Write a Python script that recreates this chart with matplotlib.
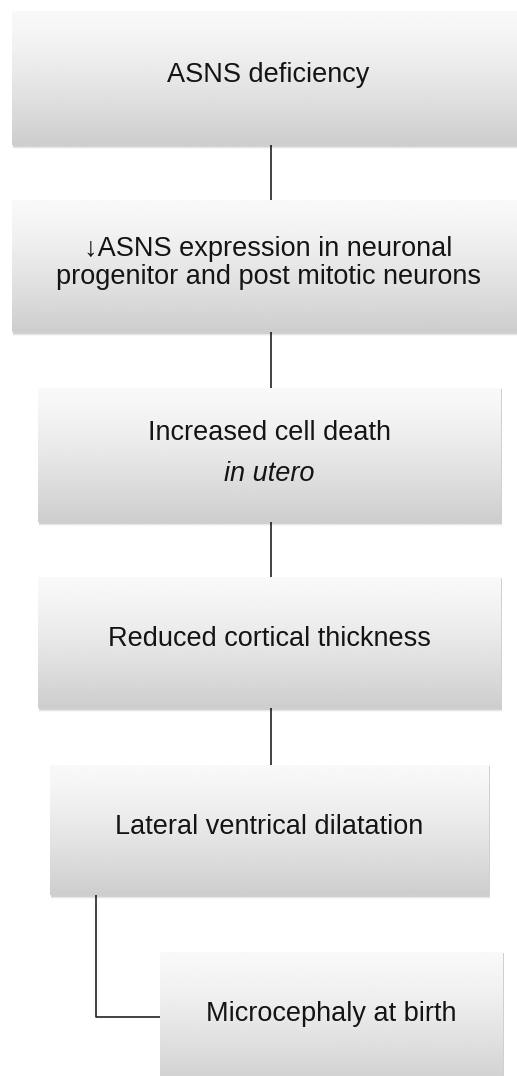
import numpy as np
import matplotlib.pyplot as plt
from matplotlib.patches import Rectangle

# Textos de cada caja del diagrama
labels = [
    "ASNS deficiency",
    "\u2193ASNS expression in neuronal\nprogenitor and post mitotic neurons",
    "Increased cell death",
    "Reduced cortical thickness",
    "Lateral ventrical dilatation",
    "Microcephaly at birth",
]
italic_notes = ["", "", "in utero", "", "", ""]

# Cajas en pixeles: (x0, y0, x1, y1)
boxes = [
    (12, 11, 525, 145),
    (12, 200, 525, 332),
    (38, 388, 501, 522),
    (38, 577, 501, 708),
    (50, 765, 489, 895),
    (160, 952, 503, 1090),
]

W, H = 517, 1076
fig = plt.figure(figsize=(W / 100, H / 100), dpi=100)
ax = fig.add_axes([0, 0, 1, 1])
ax.set_xlim(0, W)
ax.set_ylim(H, 0)
ax.axis('off')

fam = ['Liberation Sans', 'DejaVu Sans']
fs = 19.5

# degradado vertical blanco -> gris
t = np.linspace(0, 1, 256)
grad = (0.975 - 0.17 * t ** 1.3).reshape(-1, 1)

for i, (x0, y0, x1, y1) in enumerate(boxes):
    # sombra suave
    for k, a in enumerate([0.10, 0.06, 0.03]):
        sh = Rectangle((x0 + 1, y0 + 1), x1 - x0, y1 - y0 + 1 + k, facecolor='black',
                       edgecolor='none', alpha=a, zorder=1)
        ax.add_patch(sh)
    rect = Rectangle((x0, y0), x1 - x0, y1 - y0, facecolor='none', edgecolor='none', zorder=2)
    ax.add_patch(rect)
    im = ax.imshow(grad, cmap='gray', vmin=0, vmax=1, aspect='auto',
                   extent=(x0, x1, y1, y0), zorder=2, interpolation='bilinear')
    im.set_clip_path(rect)

    cx = (x0 + min(x1, W + 8)) / 2
    cy = (y0 + y1) / 2 - 3
    if i == 5:
        cy = 1014
    if italic_notes[i]:
        ax.text(cx, cy - 19, labels[i], ha='center', va='center', fontsize=fs,
                family=fam, color='#141414', zorder=3)
        ax.text(cx, cy + 22, italic_notes[i], ha='center', va='center', fontsize=fs,
                family=fam, style='italic', color='#141414', zorder=3)
    else:
        ax.text(cx, cy, labels[i], ha='center', va='center', fontsize=fs,
                family=fam, color='#141414', zorder=3, linespacing=1.08)

# conectores verticales
for i in range(4):
    ax.plot([271, 271], [boxes[i][3], boxes[i + 1][1]], color='#222222', lw=1.2, zorder=0.5)

# conector en codo hacia la ultima caja
ax.plot([96, 96, 160], [boxes[4][3], 1017, 1017], color='#222222', lw=1.2, zorder=0.5)

fig.savefig('out.png', dpi=100, facecolor='white')
